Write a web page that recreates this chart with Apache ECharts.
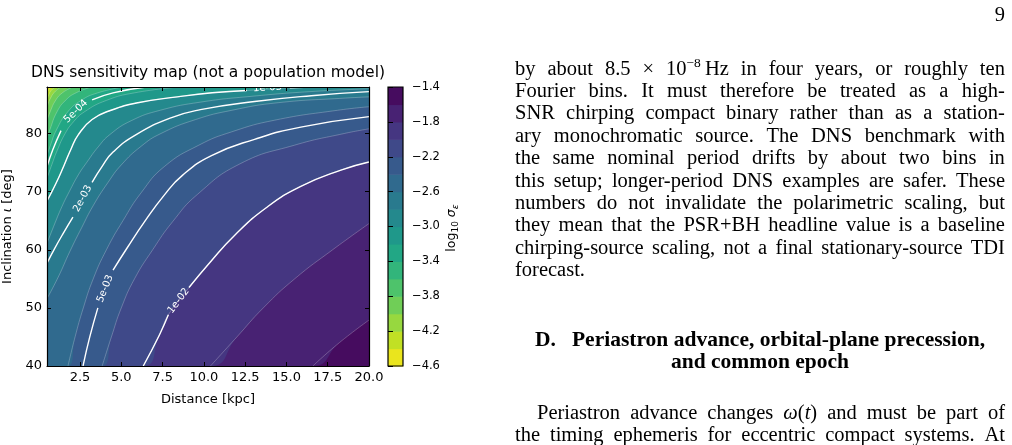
<!DOCTYPE html>
<html>
<head>
<meta charset="utf-8">
<title>DNS sensitivity map</title>
<script src="https://cdn.jsdelivr.net/npm/echarts@6.0.0/dist/echarts.min.js"></script>
<style>
  html, body { margin: 0; padding: 0; background: #fff; }
  #chart { position: absolute; left: 0; top: 0; width: 1012px; height: 445px; }
  .tx { position: absolute; font-family: 'Liberation Serif', 'DejaVu Serif', serif; font-size: 20.5px;
        line-height: 22px; height: 22px; color: #000; white-space: nowrap; }
  .jl { display: flex; justify-content: space-between; }
  .hd { font-size: 21.5px; }
  .tx sup { font-size: 13.5px; line-height: 0; vertical-align: super; }
</style>
</head>
<body>
<div id="chart"></div>
<script>
// filled contour levels of log10 sigma_eps
var levels = [-4.6, -4.4, -4.2, -4.0, -3.8, -3.6, -3.4, -3.2, -3.0, -2.8, -2.6, -2.4, -2.2, -2.0, -1.8, -1.6, -1.4];
var cbTicks = [-4.6, -4.2, -3.8, -3.4, -3.0, -2.6, -2.2, -1.8, -1.4];
var xTicks = [2.5, 5, 7.5, 10, 12.5, 15, 17.5, 20];
var yTicks = [40, 50, 60, 70, 80];

// band edges: [distance kpc, inclination deg]
var edgeM44 = [[0.5, 86.9], [0.6, 87.5], [0.75, 88]];
var edgeM42 = [[0.5, 85.7], [0.6, 86.6], [0.75, 87.4], [1.0, 88]];
var edgeM40 = [[0.5, 84.4], [0.58, 85.2], [0.7, 86], [0.95, 87.1], [1.35, 88]];
var edgeM38 = [[0.5, 82.2], [0.7, 83.8], [1.02, 85.7], [1.43, 87], [2.06, 88]];
var edgeM36 = [[0.5, 79.2], [0.68, 80.7], [1.1, 83.7], [1.62, 85.7], [2.26, 87], [3.2, 88]];
var edgeM34 = [[0.5, 76.2], [0.7, 77.9], [1.07, 80.6], [1.75, 83.7], [2.57, 85.7], [3.58, 87], [5.1, 88]];
var edgeM32 = [[0.5, 72.3], [0.8, 74.7], [1.12, 77.1], [1.6, 80], [2.1, 82], [2.75, 83.7], [4.1, 85.7], [5.8, 87], [8.5, 88]];
var edgeM30 = [[0.5, 68.4], [1.04, 71.4], [1.53, 74.5], [1.95, 77.3], [2.4, 79.8], [3.23, 82.4], [4.38, 84.0], [6.0, 85.3], [8.39, 86.3], [10.5, 87.0], [12.6, 87.4], [15.2, 87.85], [16.5, 88]];
var edgeM28 = [[0.5, 61.1], [0.9, 64], [1.4, 67.4], [1.85, 70], [2.4, 72.9], [2.9, 75], [3.6, 77.7], [4.3, 79.8], [5.6, 82.2], [7.36, 84], [9.8, 85.4], [12.9, 86.4], [16.4, 87.2], [20, 87.7]];
var edgeM26 = [[0.5, 51.6], [1.18, 55.3], [1.9, 59.8], [2.6, 63.8], [3.3, 67.6], [4.2, 71.6], [5.0, 74.6], [6.2, 77.8], [7.4, 80], [9.5, 82.4], [11.7, 84], [14.5, 85.3], [18.6, 86.1], [20, 86.3]];
var edgeM24 = [[1.77, 40], [2.2, 45], [2.7, 50], [3.3, 55], [4.1, 60], [5.1, 65], [6.2, 69.8], [7.6, 74.3], [9.7, 78], [11.7, 80.3], [14.3, 82.3], [18.1, 84], [20, 84.6]];
var edgeM22 = [[3.84, 40], [4.4, 45], [5.0, 50], [5.8, 55], [6.9, 60], [8.1, 64.8], [9.6, 69.5], [12.2, 74.8], [15.5, 78], [18.5, 80], [20, 80.8]];
var edgeM20 = [[6.33, 40], [7.3, 45.3], [7.85, 48.8], [9.1, 53.5], [10.3, 57.6], [11.9, 62.6], [13.86, 67.4], [15.87, 70.9], [18.3, 73.7], [20, 75.1]];
var edgeM18 = [[10.4, 40], [12.0, 45], [13.6, 50], [15.5, 55], [17.8, 60], [20, 64.5]];
var edgeM16 = [[16.6, 40], [18.2, 44], [20, 47.9]];
var bandEdges = [edgeM44, edgeM42, edgeM40, edgeM38, edgeM36, edgeM34, edgeM32, edgeM30,
                 edgeM28, edgeM26, edgeM24, edgeM22, edgeM20, edgeM18, edgeM16];

// labelled (white) contours that are not band edges
var line5e4 = [[0.5, 74.3], [0.85, 77.2], [1.35, 80.5], [3.23, 85.8], [4.5, 87], [6.5, 88]];
var line2e3 = [[0.5, 57.7], [0.96, 60.2], [1.5, 62.9], [2.07, 65.6], [3.23, 71.6], [3.85, 74.4], [4.5, 76.8], [5.9, 79.8], [8.0, 82.7], [9.79, 84.1], [13.07, 85.5], [16.5, 86.5], [20, 87.2]];
var line5e3 = [[2.68, 40], [3.09, 45], [3.58, 50], [4.5, 56.5], [5.35, 60.3], [6.4, 64.8], [7.6, 69.4], [8.7, 72.8], [10.46, 76.2], [13.07, 79.0], [15.87, 81.1], [20, 82.9]];

var labelled = [
  { curve: line5e4, gap: [2, 3], text: '5e-04', at: [2.25, 83.8], angle: 44 },
  { curve: edgeM30, gap: [10, 11], text: '1e-03', at: [13.85, 87.85], angle: 3 },
  { curve: line2e3, gap: [3, 4], text: '2e-03', at: [2.66, 68.8], angle: 62 },
  { curve: line5e3, gap: [2, 3], text: '5e-03', at: [4.02, 53.3], angle: 68 },
  { curve: edgeM20, gap: [2, 3], text: '1e-02', at: [8.47, 51.2], angle: 53 }
];

var viridisStops = ['#440154', '#471365', '#482475', '#463480', '#414487', '#3b528b', '#355f8d',
  '#2f6c8e', '#2a788e', '#25848e', '#21918c', '#1e9c89', '#22a884', '#2fb47c', '#44bf70',
  '#5ec962', '#7ad151', '#9bd93c', '#bddf26', '#dfe318', '#fde725'];

function hexRgb(h) {
  return [parseInt(h.substr(1, 2), 16), parseInt(h.substr(3, 2), 16), parseInt(h.substr(5, 2), 16)];
}
function viridis(t) {
  var n = viridisStops.length - 1;
  var f = Math.min(Math.max(t, 0), 1) * n;
  var i = Math.min(Math.floor(f), n - 1);
  var u = f - i;
  var a = hexRgb(viridisStops[i]), b = hexRgb(viridisStops[i + 1]);
  return 'rgb(' + [0, 1, 2].map(function (k) { return Math.round(a[k] + (b[k] - a[k]) * u); }).join(',') + ')';
}
// reversed viridis, colour taken at the middle of each band
function bandColor(i) {
  return viridis(1 - (i + 0.5) / (levels.length - 1));
}

function padEdge(c) {
  var d = c.slice();
  if (d[0][1] <= 40) d.unshift([0.5, 40]);
  if (d[d.length - 1][0] < 20) d.push([20, 88]);
  return d;
}

var SMOOTH = 0.5;
function areaSeries(data, color) {
  return {
    type: 'line', xAxisIndex: 0, yAxisIndex: 0, data: data,
    smooth: SMOOTH, symbol: 'none', silent: true,
    lineStyle: { width: 0, opacity: 0 },
    areaStyle: { color: color, opacity: 1, origin: 'start' },
    animation: false, z: 2
  };
}
function lineSeries(data, color, width) {
  return {
    type: 'line', xAxisIndex: 0, yAxisIndex: 0, data: data,
    smooth: SMOOTH, symbol: 'none', silent: true,
    lineStyle: { color: color, width: width },
    animation: false, z: 3
  };
}

var series = [];
series.push(areaSeries([[0.5, 88], [20, 88]], bandColor(0)));
bandEdges.forEach(function (c, i) {
  series.push(areaSeries(padEdge(c), bandColor(i + 1)));
});
bandEdges.forEach(function (c) {
  series.push(lineSeries(c, 'rgba(255,255,255,0.35)', 0.7));
});
labelled.forEach(function (l) {
  series.push(lineSeries(l.curve.slice(0, l.gap[0] + 1), '#fff', 1.4));
  series.push(lineSeries(l.curve.slice(l.gap[1]), '#fff', 1.4));
});
series.push({
  type: 'custom', xAxisIndex: 0, yAxisIndex: 0, clip: true, silent: true, z: 5,
  data: labelled.map(function (l) { return l.at; }),
  renderItem: function (params, api) {
    var l = labelled[params.dataIndex];
    var p = api.coord([api.value(0), api.value(1)]);
    return {
      type: 'text', x: p[0], y: p[1], rotation: l.angle * Math.PI / 180,
      style: { text: l.text, fill: '#fff', font: '10px "DejaVu Sans"', align: 'center', verticalAlign: 'middle' }
    };
  }
});
// colorbar
series.push({
  type: 'custom', xAxisIndex: 2, yAxisIndex: 2, silent: true, z: 2,
  data: levels.slice(0, -1).map(function (v) { return [0.5, v]; }),
  renderItem: function (params, api) {
    var i = params.dataIndex;
    var p0 = api.coord([0, levels[i]]);
    var p1 = api.coord([1, levels[i + 1]]);
    return {
      type: 'rect',
      shape: { x: p0[0], y: p1[1], width: p1[0] - p0[0], height: p0[1] - p1[1] + 0.6 },
      style: { fill: bandColor(i) }
    };
  }
});
series.push({
  type: 'custom', xAxisIndex: 2, yAxisIndex: 2, silent: true, z: 6,
  data: [[0.5, levels[0]]],
  renderItem: function (params, api) {
    var p0 = api.coord([0, levels[0]]);
    var p1 = api.coord([1, levels[levels.length - 1]]);
    return {
      type: 'rect',
      shape: { x: p0[0], y: p1[1], width: p1[0] - p0[0], height: p0[1] - p1[1] },
      style: { fill: null, stroke: '#000', lineWidth: 1.2 }
    };
  }
});

var font = 'DejaVu Sans';
var spine = { show: true, onZero: false, lineStyle: { color: '#000', width: 1.2 } };
var inTick = function (vals) {
  return { show: true, inside: true, length: 4, customValues: vals, lineStyle: { color: '#000', width: 1 } };
};
var fmtMinus = function (v) { return v.toFixed(1).replace('-', '\u2212'); };

var chart = echarts.init(document.getElementById('chart'));
chart.setOption({
  backgroundColor: '#fff',
  animation: false,
  grid: [
    { left: 47, top: 87, width: 322, height: 279 },
    { left: 388, top: 87, width: 15, height: 279 }
  ],
  xAxis: [
    { type: 'value', gridIndex: 0, min: 0.5, max: 20, position: 'bottom', z: 10,
      axisLine: spine, axisTick: inTick(xTicks), splitLine: { show: false },
      axisLabel: { customValues: xTicks, formatter: function (v) { return v.toFixed(1); },
                   color: '#000', fontSize: 13, fontFamily: font, margin: 5 },
      name: 'Distance [kpc]', nameLocation: 'middle', nameGap: 27,
      nameTextStyle: { color: '#000', fontSize: 13, fontFamily: font } },
    { type: 'value', gridIndex: 0, min: 0.5, max: 20, position: 'top', z: 10,
      axisLine: spine, axisTick: inTick(xTicks), splitLine: { show: false },
      axisLabel: { show: false } },
    { type: 'value', gridIndex: 1, min: 0, max: 1, show: false }
  ],
  yAxis: [
    { type: 'value', gridIndex: 0, min: 40, max: 88, position: 'left', z: 10,
      axisLine: spine, axisTick: inTick(yTicks), splitLine: { show: false },
      axisLabel: { customValues: yTicks, color: '#000', fontSize: 13, fontFamily: font, margin: 5 },
      name: 'Inclination {i|\u03b9} [deg]', nameLocation: 'middle', nameGap: 33, nameRotate: 90,
      nameTextStyle: { color: '#000', fontSize: 13, fontFamily: font,
        rich: { i: { fontStyle: 'italic', fontSize: 13, fontFamily: font, color: '#000' } } } },
    { type: 'value', gridIndex: 0, min: 40, max: 88, position: 'right', z: 10,
      axisLine: spine, axisTick: inTick(yTicks), splitLine: { show: false },
      axisLabel: { show: false } },
    { type: 'value', gridIndex: 1, min: -4.6, max: -1.4, position: 'right', z: 10,
      axisLine: { show: false }, splitLine: { show: false },
      axisTick: { show: true, inside: false, length: 5, customValues: cbTicks, lineStyle: { color: '#000', width: 1 } },
      axisLabel: { customValues: cbTicks, formatter: fmtMinus, color: '#000', fontSize: 11.5, fontFamily: font, margin: 9 } }
  ],
  graphic: [
    { type: 'text', x: 208, y: 73, silent: true,
      style: { text: 'DNS sensitivity map (not a population model)', fill: '#000',
               font: '15.5px "DejaVu Sans"', align: 'center', verticalAlign: 'middle' } },
    { type: 'text', x: 452, y: 228, rotation: Math.PI / 2, silent: true,
      style: { text: '{n|log}{s|10}{g| \u03c3}{e|\u03b5}', align: 'center', verticalAlign: 'middle',
        rich: {
          n: { fontSize: 12.5, fontFamily: font, fill: '#000', lineHeight: 16 },
          s: { fontSize: 9, fontFamily: font, fill: '#000', lineHeight: 16, verticalAlign: 'bottom' },
          g: { fontSize: 12.5, fontFamily: font, fontStyle: 'italic', fill: '#000', lineHeight: 16 },
          e: { fontSize: 9, fontFamily: font, fontStyle: 'italic', fill: '#000', lineHeight: 16, verticalAlign: 'bottom' }
        } } }
  ],
  series: series
});

// page text to the right of the figure
var bodyLines = [
  'by about 8.5 \u00d7 10<sup>\u22128</sup>&#8201;Hz in four years, or roughly ten',
  'Fourier bins. It must therefore be treated as a high-',
  'SNR chirping compact binary rather than as a station-',
  'ary monochromatic source. The DNS benchmark with',
  'the same nominal period drifts by about two bins in',
  'this setup; longer-period DNS examples are safer. These',
  'numbers do not invalidate the polarimetric scaling, but',
  'they mean that the PSR+BH headline value is a baseline',
  'chirping-source scaling, not a final stationary-source TDI',
  'forecast.'
];
function addLine(html, left, width, cy, mode, cls) {
  var d = document.createElement('div');
  d.className = 'tx' + (mode === 'j' ? ' jl' : '') + (cls ? ' ' + cls : '');
  d.style.left = left + 'px';
  d.style.width = width + 'px';
  d.style.top = (cy - 11) + 'px';
  if (mode === 'j') {
    d.innerHTML = html.split(/\s+/).map(function (t) { return '<span>' + t + '</span>'; }).join('');
  } else {
    d.style.textAlign = mode;
    d.innerHTML = html;
  }
  document.body.appendChild(d);
}
addLine('9', 960, 45, 14, 'right');
bodyLines.forEach(function (s, k) { addLine(s, 515, 490, 67.5 + k * 22.4, 'j'); });
addLine('<b>D.&nbsp;&nbsp;&nbsp;Periastron advance, orbital-plane precession,</b>', 515, 490, 339, 'center', 'hd');
addLine('<b>and common epoch</b>', 515, 490, 361, 'center', 'hd');
addLine('Periastron advance changes <i>\u03c9</i>(<i>t</i>) and must be part of', 537, 468, 412, 'j');
addLine('the timing ephemeris for eccentric compact systems. At', 515, 490, 434, 'j');
</script>
</body>
</html>
